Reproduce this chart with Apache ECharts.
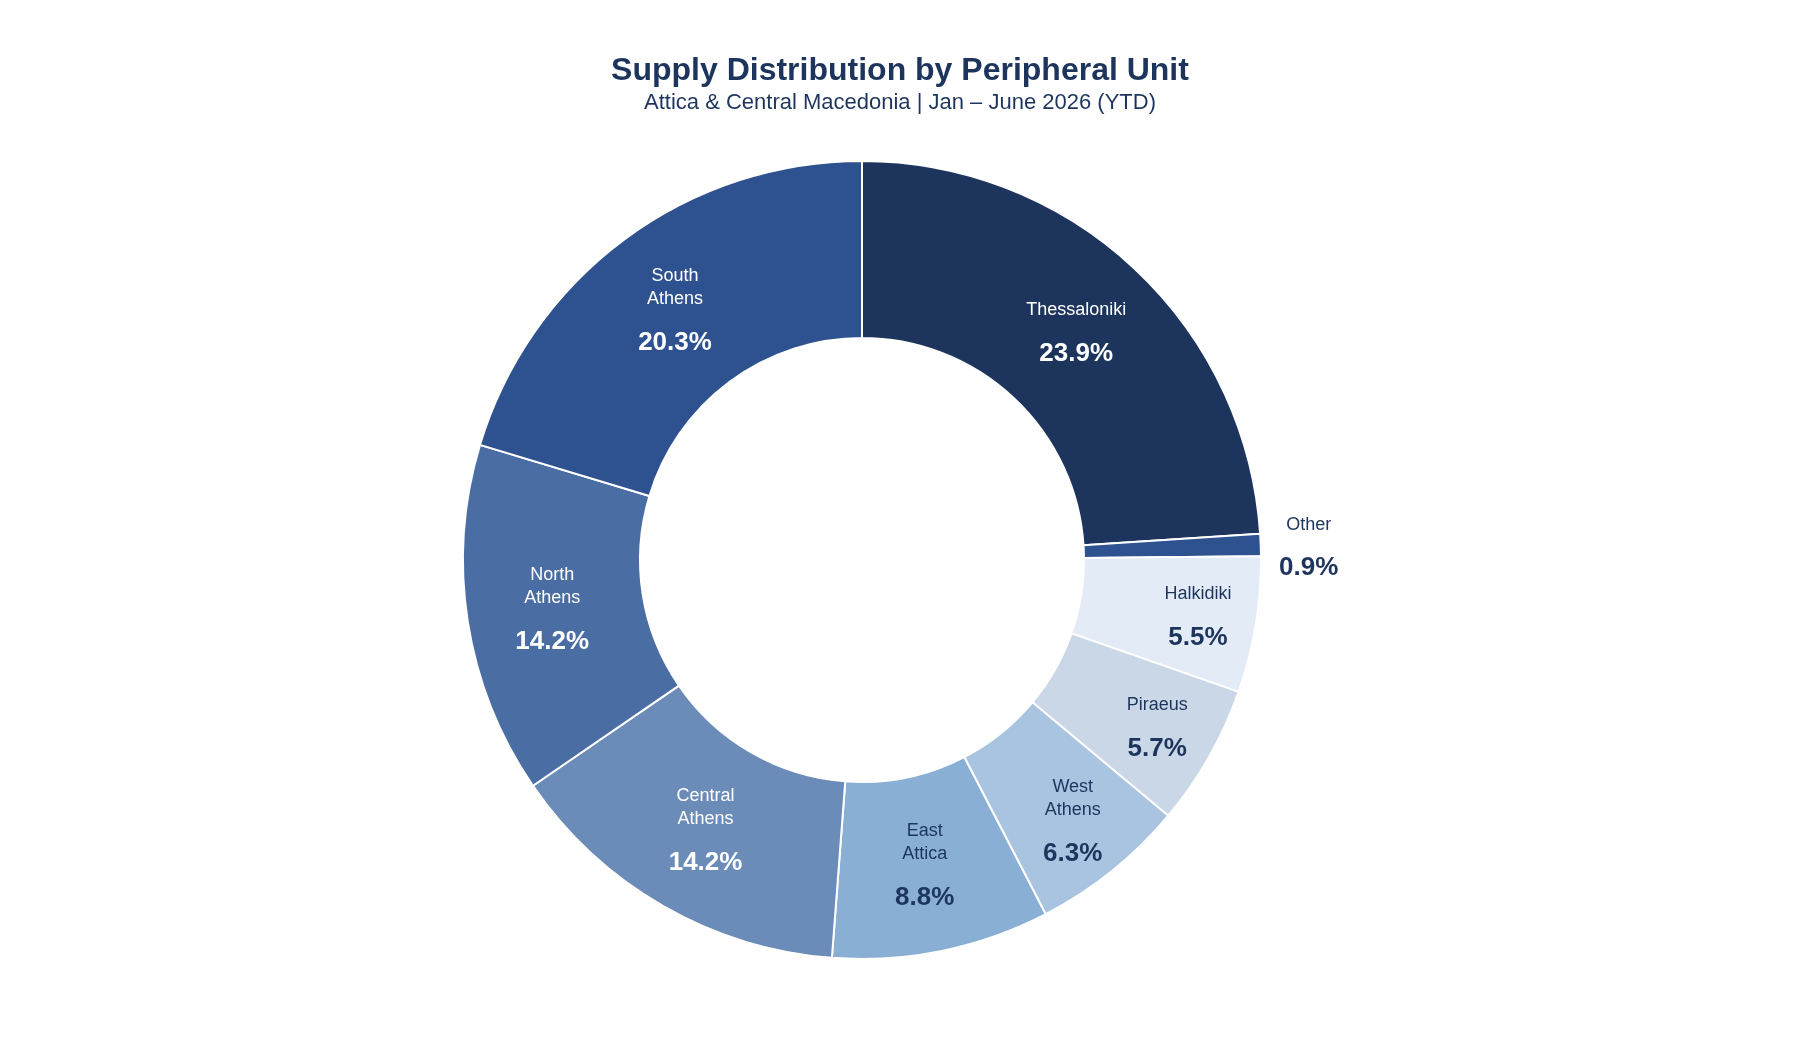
<!DOCTYPE html>
<html>
<head>
<meta charset="utf-8">
<title>Supply Distribution by Peripheral Unit</title>
<script src="https://cdn.jsdelivr.net/npm/echarts@6/dist/echarts.min.js"></script>
<style>
  html, body { margin: 0; padding: 0; background: #fff; }
  #main { width: 1800px; height: 1040px; }
</style>
</head>
<body>
<div id="main"></div>
<script>
// slice order follows the chart clockwise from 12 o'clock
const units = ['Thessaloniki', 'Other', 'Halkidiki', 'Piraeus', 'West\nAthens',
  'East\nAttica', 'Central\nAthens', 'North\nAthens', 'South\nAthens'];
const shares = [23.9, 0.9, 5.5, 5.7, 6.3, 8.8, 14.2, 14.2, 20.3];
const sliceColors = ['#1d355d', '#2e5190', '#e3ebf7', '#c9d7e6', '#a9c4e0',
  '#8aafd5', '#6b8bb9', '#4a6ea4', '#2e5190'];

const navy = '#1d355d';
const font = 'Liberation Sans, Arial, sans-serif';
const lightText = ['Thessaloniki', 'Central\nAthens', 'North\nAthens', 'South\nAthens'];
// narrow slices get their label pushed a bit outwards (px, along the radius)
const labelPush = { 'Halkidiki': 27, 'Piraeus': 26, 'West\nAthens': 23 };
const labelLift = -8;

const total = shares.reduce((a, b) => a + b, 0);
let acc = 0;

const data = units.map((name, i) => {
  const mid = (acc + shares[i] / 2) / total * 2 * Math.PI; // angle from 12 o'clock, clockwise
  acc += shares[i];
  const txt = lightText.includes(name) ? '#fff' : navy;
  const push = labelPush[name] || 0;
  // lower half labels sit a little higher still
  const lift = labelLift - Math.max(0, -Math.cos(mid)) * 4;
  const item = {
    name: name,
    value: shares[i],
    itemStyle: { color: sliceColors[i] },
    label: {
      offset: [push * Math.sin(mid), -push * Math.cos(mid) + lift],
      rich: {
        n: { color: txt, fontSize: 18, lineHeight: 23, fontFamily: font },
        p: { color: txt, fontSize: 26, fontWeight: 'bold', lineHeight: 26, padding: [39, 0, 0, 0], fontFamily: font }
      }
    }
  };
  if (name === 'Other') {
    item.label.position = 'outside';
    item.label.offset = [0, -6];
    item.label.rich.n.width = 58;
    item.label.rich.n.align = 'center';
    item.label.rich.p.width = 58;
    item.label.rich.p.align = 'center';
    item.label.rich.p.padding = [36, 0, 0, 0];
    item.labelLine = { show: false, length: 14, length2: 0 };
  }
  return item;
});

const chart = echarts.init(document.getElementById('main'));

const option = {
  backgroundColor: '#fff',
  title: {
    text: 'Supply Distribution by Peripheral Unit',
    subtext: 'Attica & Central Macedonia | Jan \u2013 June 2026 (YTD)',
    left: 'center',
    top: 50,
    itemGap: 5,
    textStyle: {
      fontFamily: font,
      fontSize: 32,
      fontWeight: 'bold',
      color: navy
    },
    subtextStyle: {
      fontFamily: font,
      fontSize: 22,
      color: navy
    }
  },
  series: [{
    type: 'pie',
    center: [862, 560],
    radius: [222, 399],
    startAngle: 90,
    clockwise: true,
    avoidLabelOverlap: false,
    itemStyle: { borderColor: '#fff', borderWidth: 2 },
    label: {
      show: true,
      position: 'inside',
      fontFamily: font,
      formatter: p => '{n|' + p.name.split('\n').join('}\n{n|') + '}\n{p|' + p.value.toFixed(1) + '%}'
    },
    emphasis: { disabled: true },
    data: data
  }]
};

chart.setOption(option);
</script>
</body>
</html>
